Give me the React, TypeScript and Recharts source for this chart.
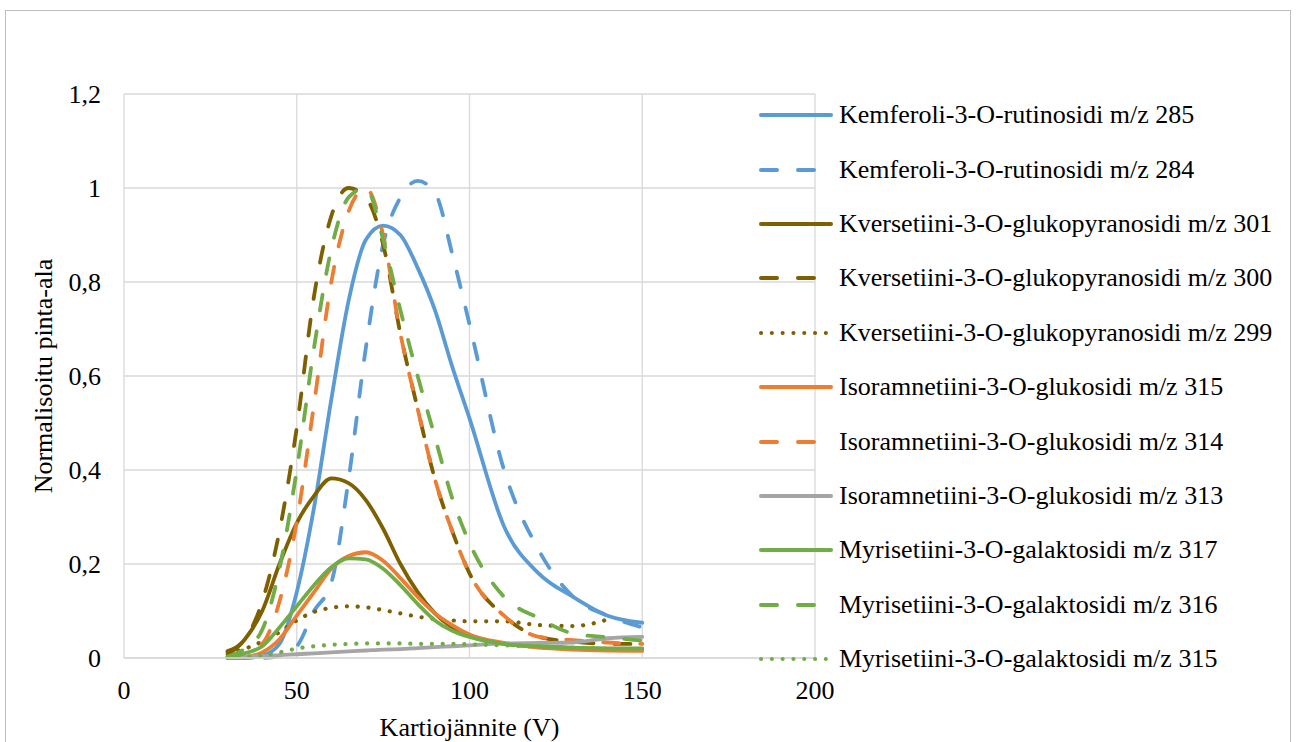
import React from "react";
import {
  LineChart,
  Line,
  XAxis,
  YAxis,
  CartesianGrid,
  Legend,
} from "recharts";

// cone voltage (V)
const volts = [30, 35, 40, 45, 50, 55, 60, 65, 70, 75, 80, 85, 90, 95, 100, 110, 120, 130, 140, 150];

const kemf285 = [0, 0, 0.005, 0.03, 0.14, 0.32, 0.55, 0.76, 0.89, 0.92, 0.9, 0.83, 0.74, 0.62, 0.51, 0.28, 0.18, 0.13, 0.09, 0.075];
const kemf284 = [0, 0, 0, 0.005, 0.025, 0.1, 0.16, 0.38, 0.66, 0.88, 0.98, 1.015, 0.99, 0.86, 0.71, 0.4, 0.23, 0.13, 0.09, 0.065];
const kv301 = [0.007, 0.04, 0.1, 0.2, 0.287, 0.345, 0.382, 0.372, 0.336, 0.275, 0.2, 0.14, 0.095, 0.065, 0.047, 0.03, 0.024, 0.021, 0.02, 0.02];
const kv300 = [0.015, 0.04, 0.12, 0.27, 0.49, 0.77, 0.94, 1.0, 0.98, 0.88, 0.69, 0.53, 0.38, 0.27, 0.18, 0.09, 0.045, 0.035, 0.03, 0.03];
const kv299 = [0.012, 0.02, 0.035, 0.055, 0.08, 0.098, 0.107, 0.11, 0.108, 0.102, 0.095, 0.088, 0.083, 0.08, 0.078, 0.078, 0.07, 0.068, 0.082, null];
const iso315 = [0, 0.002, 0.012, 0.04, 0.09, 0.14, 0.19, 0.217, 0.225, 0.207, 0.17, 0.13, 0.095, 0.07, 0.05, 0.032, 0.022, 0.018, 0.016, 0.015];
const iso314 = [0, 0.01, 0.03, 0.12, 0.29, 0.54, 0.8, 0.95, 1.0, 0.9, 0.69, 0.53, 0.38, 0.27, 0.18, 0.09, 0.045, 0.038, 0.033, 0.03];
const iso313 = [0.002, 0.003, 0.004, 0.006, 0.008, 0.01, 0.012, 0.014, 0.016, 0.018, 0.019, 0.021, 0.023, 0.025, 0.027, 0.031, 0.032, 0.033, 0.042, 0.045];
const myr317 = [0.002, 0.01, 0.025, 0.065, 0.11, 0.155, 0.193, 0.212, 0.21, 0.19, 0.155, 0.115, 0.08, 0.058, 0.045, 0.03, 0.025, 0.022, 0.02, 0.02];
const myr316 = [0.003, 0.02, 0.06, 0.19, 0.4, 0.66, 0.87, 0.98, 1.0, 0.89, 0.74, 0.6, 0.47, 0.34, 0.245, 0.13, 0.085, 0.052, 0.044, 0.037];
const myr315 = [0.002, 0.003, 0.005, 0.012, 0.02, 0.025, 0.028, 0.03, 0.031, 0.031, 0.031, 0.03, 0.03, 0.03, 0.029, 0.027, 0.024, 0.022, 0.02, 0.019];

const xTicks = [0, 50, 100, 150, 200];
const yTicks = [0, 0.2, 0.4, 0.6, 0.8, 1, 1.2];

const BLUE = "#5B9BD5";
const BROWN = "#7F6000";
const ORANGE = "#ED7D31";
const GRAY = "#A5A5A5";
const GREEN = "#70AD47";

const DASH = "16 21";
const DOT = "0.1 10.7";

const series = [
  { key: "k285", name: "Kemferoli-3-O-rutinosidi m/z 285", values: kemf285, color: BLUE },
  { key: "k284", name: "Kemferoli-3-O-rutinosidi m/z 284", values: kemf284, color: BLUE, dash: DASH },
  { key: "q301", name: "Kversetiini-3-O-glukopyranosidi m/z 301", values: kv301, color: BROWN },
  { key: "q300", name: "Kversetiini-3-O-glukopyranosidi m/z 300", values: kv300, color: BROWN, dash: DASH },
  { key: "q299", name: "Kversetiini-3-O-glukopyranosidi m/z 299", values: kv299, color: BROWN, dash: DOT },
  { key: "i315", name: "Isoramnetiini-3-O-glukosidi m/z 315", values: iso315, color: ORANGE },
  { key: "i314", name: "Isoramnetiini-3-O-glukosidi m/z 314", values: iso314, color: ORANGE, dash: DASH },
  { key: "i313", name: "Isoramnetiini-3-O-glukosidi m/z 313", values: iso313, color: GRAY },
  { key: "m317", name: "Myrisetiini-3-O-galaktosidi m/z 317", values: myr317, color: GREEN },
  { key: "m316", name: "Myrisetiini-3-O-galaktosidi m/z 316", values: myr316, color: GREEN, dash: DASH },
  { key: "m315", name: "Myrisetiini-3-O-galaktosidi m/z 315", values: myr315, color: GREEN, dash: DOT },
];

const data = volts.map((v, i) => {
  const row: Record<string, number | null> = { v };
  series.forEach((s) => {
    row[s.key] = s.values[i];
  });
  return row;
});

const FONT = "Liberation Serif, Tinos, Times New Roman, DejaVu Serif, serif";
const TEXT = "#000000";
const FS = 26;

function LegendList() {
  return (
    <div style={{ fontFamily: FONT, fontSize: FS, color: TEXT }}>
      {series.map((s) => (
        <div
          key={s.key}
          style={{ display: "flex", alignItems: "center", height: 54.4, whiteSpace: "nowrap" }}
        >
          <svg width={76} height={12}>
            <line
              x1={3}
              y1={6}
              x2={73}
              y2={6}
              stroke={s.color}
              strokeWidth={4}
              strokeDasharray={s.dash === DASH ? "16 21" : s.dash}
              strokeLinecap="round"
            />
          </svg>
          <span style={{ marginLeft: 5 }}>{s.name}</span>
        </div>
      ))}
    </div>
  );
}

export default function App() {
  return (
    <div style={{ position: "absolute", left: 0, top: 0, width: 1298, height: 742, background: "#fff" }}>
      <div
        style={{
          position: "absolute",
          left: 5,
          top: 10,
          width: 1286,
          height: 760,
          border: "1px solid #BFBFBF",
          boxSizing: "border-box",
        }}
      />
      <LineChart
        width={1298}
        height={742}
        data={data}
        margin={{ top: 94, right: 483, bottom: 0, left: 0 }}
        style={{ fontFamily: FONT }}
      >
        <CartesianGrid stroke="#D9D9D9" strokeWidth={1.3} />
        <XAxis
          dataKey="v"
          type="number"
          domain={[0, 200]}
          ticks={xTicks}
          height={84}
          tickLine={false}
          tickSize={0}
          tickMargin={23}
          axisLine={{ stroke: "#D9D9D9", strokeWidth: 1.3 }}
          tick={{ fill: TEXT, fontSize: FS, fontFamily: FONT }}
          label={{
            value: "Kartiojännite (V)",
            position: "insideBottom",
            offset: 6,
            fill: TEXT,
            fontSize: FS,
            fontFamily: FONT,
          }}
        />
        <YAxis
          type="number"
          domain={[0, 1.2]}
          ticks={yTicks}
          width={124}
          tickLine={false}
          axisLine={false}
          tickSize={0}
          tickMargin={23}
          tickFormatter={(v: number) => String(v).replace(".", ",")}
          tick={{ fill: TEXT, fontSize: FS, fontFamily: FONT }}
          label={{
            value: "Normalisoitu pinta-ala",
            angle: -90,
            position: "insideLeft",
            offset: 43,
            fill: TEXT,
            fontSize: FS,
            fontFamily: FONT,
            style: { textAnchor: "middle" },
          }}
        />
        <Legend
          layout="vertical"
          align="center"
          verticalAlign="middle"
          wrapperStyle={{ left: 758, top: 88, width: 540 }}
          content={() => <LegendList />}
        />
        {series.map((s) => (
          <Line
            key={s.key}
            type="monotone"
            dataKey={s.key}
            name={s.name}
            stroke={s.color}
            strokeWidth={s.dash === DOT ? 4.2 : 3.8}
            strokeDasharray={s.dash}
            strokeLinecap="round"
            dot={false}
            activeDot={false}
            isAnimationActive={false}
          />
        ))}
      </LineChart>
    </div>
  );
}
